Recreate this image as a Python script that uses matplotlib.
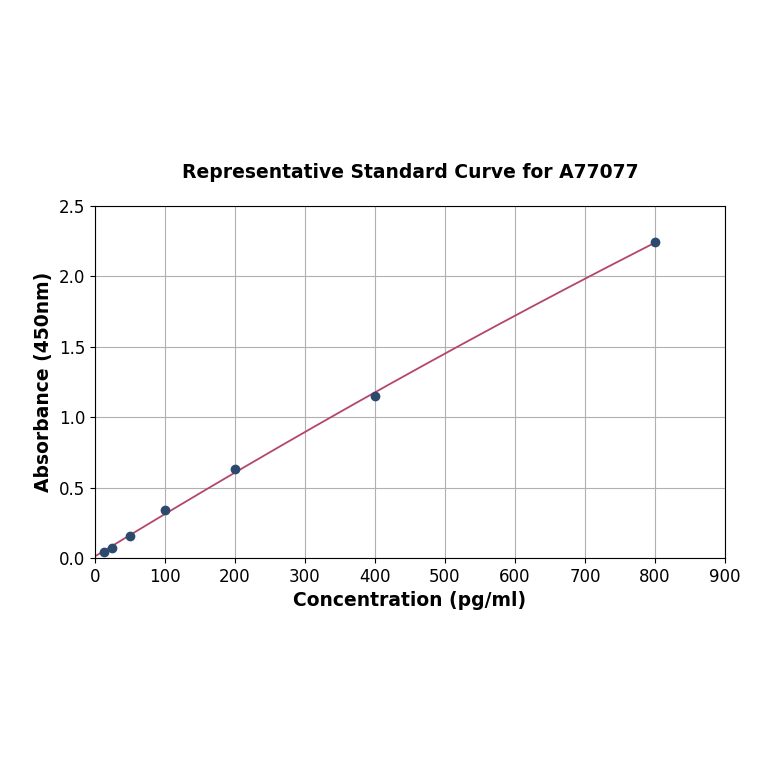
"""
Standard curve for A77077
"""
import numpy as np
import matplotlib
matplotlib.use("Agg")
import matplotlib.pyplot as plt

# concentration of standards (pg/ml) and measured absorbance at 450nm
conc = [12.5, 25, 50, 100, 200, 400, 800]
absorbance = [0.043, 0.071, 0.156, 0.340, 0.632, 1.150, 2.244]

x_ticks = [0, 100, 200, 300, 400, 500, 600, 700, 800, 900]
y_ticks = [0.0, 0.5, 1.0, 1.5, 2.0, 2.5]


def standard_curve(x, y, output_path="out.png"):
    fig = plt.figure(figsize=(7.64, 7.64), dpi=100)
    ax = fig.add_axes([0.1243, 0.2696, 0.8246, 0.4608])

    # second order fit through the standards
    coef = np.polyfit(x, y, 2)
    xs = np.linspace(0, max(x), 200)
    ax.plot(xs, np.polyval(coef, xs), '-', color="#b5456d", lw=1.3, zorder=2)
    ax.scatter(x, y, s=36, color="#2d4a6e", zorder=3)

    ax.set_xlim(0, 900)
    ax.set_ylim(0, 2.5)
    ax.set_xticks(x_ticks)
    ax.set_yticks(y_ticks)
    ax.set_yticklabels([f"{v:.1f}" for v in y_ticks])
    ax.tick_params(labelsize=12)
    ax.grid(True, color="#b0b0b0", lw=0.8)
    ax.set_axisbelow(True)

    ax.set_xlabel("Concentration (pg/ml)", fontsize=13.5, fontweight="bold")
    ax.set_ylabel("Absorbance (450nm)", fontsize=13.5, fontweight="bold")
    ax.set_title("Representative Standard Curve for A77077", fontsize=13.5,
                 fontweight="bold", pad=20)
    fig.savefig(output_path, dpi=100)
    plt.close(fig)


def main():
    standard_curve(conc, absorbance)


if __name__ == '__main__':
    main()
